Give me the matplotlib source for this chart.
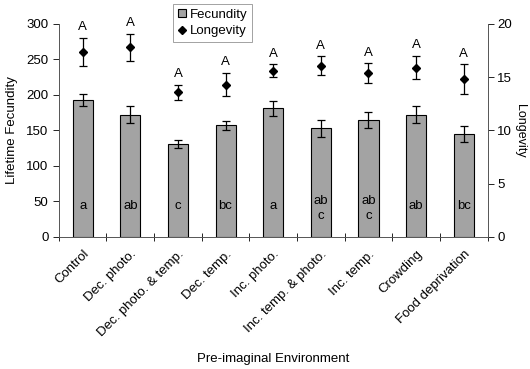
import matplotlib.pyplot as plt
from matplotlib.lines import Line2D
from matplotlib.patches import Patch
import numpy as np

plt.rcParams['font.family'] = ['Liberation Sans', 'DejaVu Sans']

treatments = ["Control", "Dec. photo.", "Dec. photo. & temp.", "Dec. temp.",
              "Inc. photo.", "Inc. temp. & photo.", "Inc. temp.", "Crowding",
              "Food deprivation"]
fecundity = [193, 172, 131, 157, 181, 153, 165, 172, 145]
fecundity_err = [8, 12, 6, 7, 10, 12, 11, 12, 11]
longevity = [17.4, 17.8, 13.6, 14.3, 15.6, 16.1, 15.4, 15.9, 14.8]
longevity_err = [1.3, 1.3, 0.7, 1.1, 0.6, 0.85, 0.9, 1.1, 1.4]
fec_letters = ["a", "ab", "c", "bc", "a", "ab\nc", "ab\nc", "ab", "bc"]
lon_letters = ["A"] * 9

FS = 9.5
bar_color = "#a3a3a3"

fig = plt.figure(figsize=(5.3, 3.69), dpi=100)
ax = fig.add_axes([0.111, 0.358, 0.809, 0.577])
x = np.arange(len(treatments))

ax.bar(x, fecundity, width=0.42, color=bar_color, edgecolor="black",
       linewidth=0.8, zorder=2)
ax.errorbar(x, fecundity, yerr=fecundity_err, fmt="none", ecolor="black",
            elinewidth=0.9, capsize=3, capthick=0.9, zorder=3)
for xi, t in zip(x, fec_letters):
    ax.text(xi, 44 if "\n" not in t else 40, t, ha="center", va="center",
            fontsize=FS, linespacing=1.3, zorder=4)

ax.set_xlim(-0.5, len(treatments) - 0.5)
ax.set_ylim(0, 300)
ax.set_yticks([0, 50, 100, 150, 200, 250, 300])
ax.set_ylabel("Lifetime Fecundity", fontsize=FS, labelpad=6)
ax.set_xlabel("Pre-imaginal Environment", fontsize=FS, labelpad=10)
ax.set_xticks(x)
ax.set_xticklabels(treatments, rotation=45, ha="right", rotation_mode="anchor",
                   fontsize=FS)
ax.tick_params(axis="x", length=0, pad=8)
ax.set_xticks(np.arange(len(treatments) + 1) - 0.5, minor=True)
ax.tick_params(axis="x", which="minor", length=6, direction="inout", width=0.6)
ax.tick_params(axis="y", length=4, width=0.6, labelsize=FS)
ax.spines["top"].set_visible(False)
for s in ["left", "bottom", "right"]:
    ax.spines[s].set_linewidth(0.6)
    ax.spines[s].set_color("#555555")

ax2 = ax.twinx()
ax2.set_ylim(0, 20)
ax2.set_yticks([0, 5, 10, 15, 20])
ax2.errorbar(x, longevity, yerr=longevity_err, fmt="D", color="black",
             markersize=4, elinewidth=0.9, capsize=3, capthick=0.9)
for xi, v, e, t in zip(x, longevity, longevity_err, lon_letters):
    ax2.text(xi, v + e + 0.45, t, ha="center", va="bottom", fontsize=FS)
ax2.set_ylabel("Longevity", fontsize=9, rotation=270, labelpad=10)
ax2.tick_params(axis="y", length=4, width=0.6, labelsize=FS, pad=3)
ax2.spines["top"].set_visible(False)
for s in ["left", "bottom", "right"]:
    ax2.spines[s].set_linewidth(0.6)
    ax2.spines[s].set_color("#555555")

handles = [Patch(facecolor=bar_color, edgecolor="black", linewidth=0.8),
           Line2D([], [], marker="D", color="black", linestyle="none",
                  markersize=4)]
leg = fig.legend(handles, ["Fecundity", "Longevity"], loc="upper left",
                 bbox_to_anchor=(173 / 530, 1 - 4 / 369), fontsize=FS,
                 frameon=True, fancybox=False, edgecolor="#777777",
                 handlelength=0.6, handleheight=0.6, handletextpad=0.3,
                 borderpad=0.35, labelspacing=0.35, borderaxespad=0)
leg.get_frame().set_linewidth(0.6)

fig.savefig("out.png", dpi=100)
